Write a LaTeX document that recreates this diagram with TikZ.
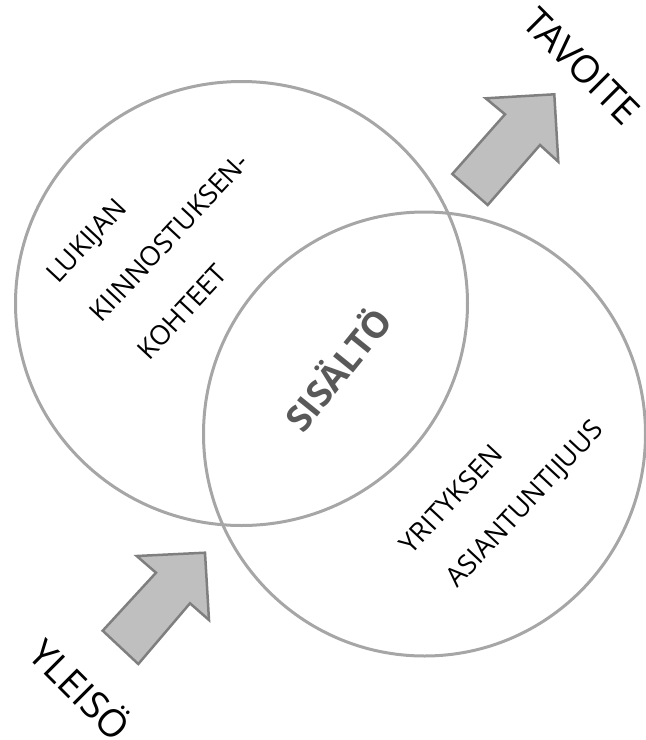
\documentclass[tikz,border=0pt]{standalone}
\usepackage{fontspec}
\setmainfont{Open Sans}
\definecolor{ringgrey}{HTML}{A6A6A6}
\definecolor{arrowfill}{HTML}{BFBFBF}
\definecolor{arrowline}{HTML}{7F7F7F}
\definecolor{titlegrey}{HTML}{595959}
\tikzset{
  ring/.style={draw=ringgrey, line width=3pt},
  bigarrow/.style={draw=arrowline, fill=arrowfill, line width=2.5pt, line join=miter},
  lbl/.style={inner sep=0pt, font=\fontsize{27}{31}\selectfont, rotate=47},
  outer/.style={inner sep=0pt, font=\fontsize{38}{44}\selectfont, rotate=-45},
  title/.style={inner sep=0pt, text=titlegrey, font=\fontsize{36}{40}\selectfont\bfseries, rotate=51}
}
\begin{document}
\begin{tikzpicture}[x=1pt,y=-1pt]
\useasboundingbox (0,0) rectangle (646,740);
\draw[ring] (241.5,303.5) ellipse [x radius=226, y radius=222];
\draw[ring] (424.5,434) ellipse [x radius=221, y radius=222];
% arrows
\draw[bigarrow] (485.7,98.3) -- (554.3,94.3) -- (558.3,161.7) -- (540,145) -- (487.7,205) -- (452.3,174) -- (505,114.3) -- cycle;
\draw[bigarrow] (136.7,556) -- (205,552.7) -- (209,620) -- (190,603.3) -- (138.3,664) -- (102.7,630.7) -- (156,572.7) -- cycle;
% texts
\node[lbl] (lukijan) at (88,242) {LUKIJAN};
\node[lbl] (kiinn) at (169,237) {KIINNOSTUKSEN-};
\node[lbl] (kohteet) at (182,312) {KOHTEET};
\node[lbl] (yrit) at (451,499) {YRITYKSEN};
\node[lbl] (asian) at (526,505) {ASIANTUNTIJUUS};
\node[title] (sisalto) at (336,368) {SISÄLTÖ};
\node[outer] (tavoite) at (582,66) {TAVOITE};
\node[outer] (yleiso) at (82,688) {YLEISÖ};
\end{tikzpicture}
\end{document}
